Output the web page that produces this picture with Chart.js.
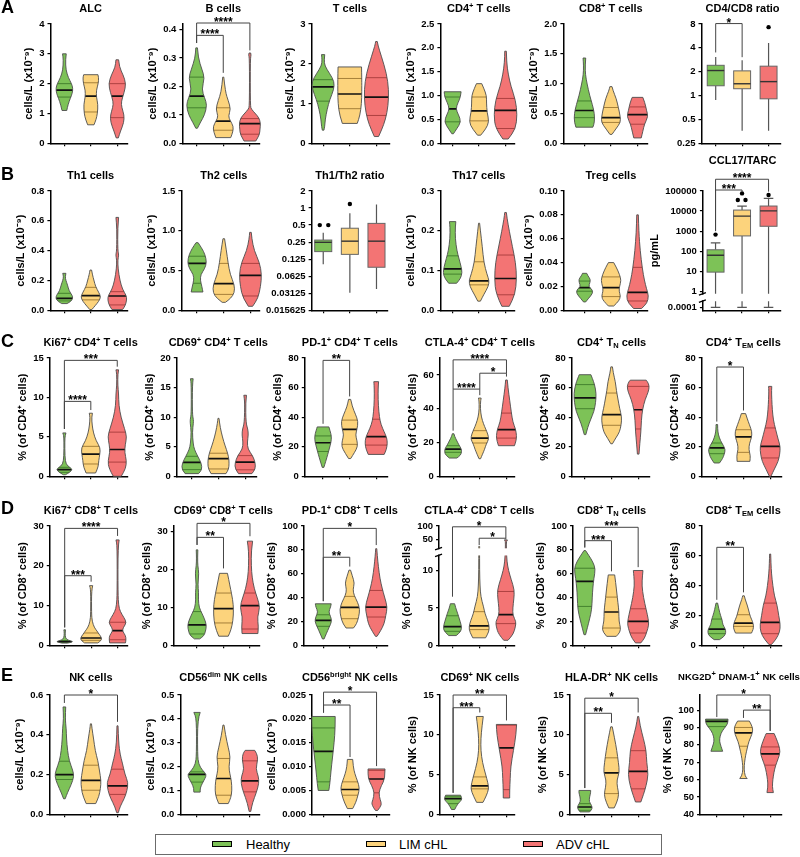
<!DOCTYPE html>
<html>
<head>
<meta charset="utf-8">
<title>Immune cell subsets in cHL</title>
<script src="https://cdn.jsdelivr.net/npm/chart.js@4.4.1/dist/chart.umd.min.js"></script>
<style>
  html, body { margin: 0; padding: 0; background: #fff; }
  body { position: relative; width: 800px; height: 857px; overflow: hidden; font-family: 'Liberation Sans', Arial, sans-serif; color: #000; }
  .panel { position: absolute; }
  .panel canvas { display: block; }
  .ptitle { position: absolute; transform: translateX(-50%); white-space: nowrap; font-weight: bold; font-size: 11px; line-height: 14px; z-index: 2; }
  .ptitle sup { font-size: 7.5px; vertical-align: 4px; line-height: 0; }
  .ptitle sub { font-size: 7.5px; vertical-align: -2px; line-height: 0; }
  .letter { position: absolute; font-weight: bold; font-size: 18px; line-height: 18px; z-index: 2; }
  #legend { position: absolute; left: 155px; top: 834px; width: 507px; height: 21px; border: 1px solid #6b6b6b; box-sizing: border-box; }
  #legend .sw { position: absolute; top: 6px; width: 18px; height: 4px; border: 1.5px solid #000; }
  #legend .lt { position: absolute; top: 0; font-size: 13px; line-height: 19px; }
</style>
</head>
<body>
<script>
// ---------- groups ----------
const GROUPS = ['Healthy', 'LIM cHL', 'ADV cHL'];
const FILLS = ['#7dc257', '#fcd37c', '#f37474'];
const QUART_LINES = ['#3e7a2a', '#9c7632', '#a63b3b'];
const FONT = "'Liberation Sans', Arial, sans-serif";

const Y_CELLS = 'cells/L (x10⁻⁹)';
const Y_CD4 = '% (of CD4⁺ cells)';
const Y_CD8 = '% (of CD8⁺ cells)';
const Y_NK = '% (of NK cells)';

// ---------- data: violin outlines are [value, half width] from min to max; quartiles are [Q1, median, Q3] ----------
// row A
const alcShape = [
  [[1.1,0.09],[1.3,0.14],[1.5,0.22],[1.68,0.3],[1.85,0.32],[2.0,0.27],[2.2,0.15],[2.45,0.06],[2.8,0.04],[3.0,0.07]],
  [[0.62,0.12],[0.8,0.2],[1.0,0.25],[1.3,0.27],[1.55,0.21],[1.78,0.21],[2.0,0.28],[2.2,0.3],[2.3,0.27]],
  [[0.18,0.04],[0.4,0.12],[0.7,0.25],[0.95,0.26],[1.2,0.17],[1.4,0.15],[1.7,0.26],[2.0,0.33],[2.3,0.22],[2.55,0.08],[2.8,0.05]]];
const alcQ = [[1.55,1.78,2.0],[1.05,1.58,2.03],[0.86,1.58,2.0]];

const bShape = [
  [[0.053,0.03],[0.075,0.15],[0.1,0.3],[0.135,0.39],[0.16,0.3],[0.19,0.19],[0.23,0.3],[0.26,0.2],[0.3,0.06],[0.336,0.03]],
  [[0.02,0.28],[0.04,0.36],[0.06,0.38],[0.08,0.26],[0.096,0.19],[0.12,0.28],[0.15,0.19],[0.18,0.08],[0.233,0.02]],
  [[0.008,0.22],[0.03,0.36],[0.05,0.38],[0.07,0.4],[0.09,0.34],[0.105,0.2],[0.12,0.06],[0.13,0.015],[0.3,0.015],[0.31,0.05],[0.318,0.03]]];
const bQ = [[0.125,0.166,0.233],[0.046,0.078,0.125],[0.032,0.069,0.087]];
const bBr = [[1,3,0.4235,0.353,0.327,'****'],[1,2,0.38,0.353,0.248,'****']];

const tShape = [
  [[0.33,0.03],[0.42,0.06],[0.6,0.08],[0.85,0.15],[1.1,0.25],[1.35,0.4],[1.55,0.42],[1.75,0.25],[1.95,0.06],[2.1,0.04],[2.23,0.06]],
  [[0.5,0.28],[0.7,0.38],[1.0,0.44],[1.3,0.45],[1.6,0.45],[1.92,0.44]],
  [[0.17,0.08],[0.35,0.2],[0.6,0.34],[0.95,0.44],[1.35,0.46],[1.75,0.38],[2.2,0.18],[2.45,0.06],[2.56,0.03]]];
const tQ = [[1.06,1.42,1.6],[0.87,1.24,1.63],[0.7,1.16,1.65]];

const cd4Shape = [
  [[0.2,0.03],[0.3,0.15],[0.45,0.32],[0.6,0.22],[0.72,0.12],[0.85,0.2],[0.97,0.3],[1.08,0.32]],
  [[0.17,0.06],[0.3,0.25],[0.45,0.38],[0.65,0.3],[0.85,0.28],[1.0,0.28],[1.15,0.18],[1.25,0.1]],
  [[0.09,0.1],[0.3,0.38],[0.6,0.44],[0.9,0.38],[1.2,0.2],[1.45,0.1],[1.7,0.04],[1.93,0.03]]];
const cd4Q = [[0.45,0.72,0.97],[0.47,0.68,0.97],[0.31,0.69,0.94]];

const cd8Shape = [
  [[0.27,0.32],[0.35,0.38],[0.5,0.38],[0.65,0.3],[0.8,0.2],[1.0,0.1],[1.15,0.04],[1.3,0.03],[1.43,0.05]],
  [[0.15,0.04],[0.25,0.2],[0.35,0.36],[0.45,0.35],[0.6,0.28],[0.75,0.2],[0.88,0.08],[0.95,0.04]],
  [[0.09,0.14],[0.2,0.2],[0.32,0.26],[0.45,0.4],[0.55,0.34],[0.68,0.28],[0.77,0.2]]];
const cd8Q = [[0.43,0.55,0.71],[0.35,0.43,0.6],[0.32,0.48,0.61]];

// boxes are [low whisker, Q1, median, Q3, high whisker]; outliers are [value, x offset]
const ratioBox = [[0.88,1.33,2.07,2.41,3.07],[0.36,1.22,1.41,2.05,2.79],[0.36,0.91,1.5,2.35,4.6]];
const ratioOut = [[],[],[[7.3,0]]];
const ratioBr = [[1,2,8.1,3.5,3.05,'*']];

// row B
const th1Shape = [
  [[0.045,0.1],[0.06,0.25],[0.08,0.32],[0.1,0.3],[0.13,0.18],[0.17,0.12],[0.2,0.06],[0.225,0.03],[0.248,0.06]],
  [[0.005,0.04],[0.03,0.16],[0.06,0.3],[0.09,0.38],[0.12,0.3],[0.16,0.18],[0.2,0.12],[0.24,0.06],[0.27,0.03]],
  [[0.005,0.2],[0.03,0.3],[0.07,0.36],[0.1,0.34],[0.14,0.2],[0.2,0.1],[0.28,0.03],[0.34,0.02],[0.37,0.06],[0.4,0.02],[0.55,0.015],[0.623,0.05]]];
const th1Q = [[0.063,0.08,0.114],[0.07,0.098,0.154],[0.036,0.096,0.125]];

const th2Shape = [
  [[0.23,0.22],[0.3,0.18],[0.38,0.12],[0.45,0.14],[0.52,0.28],[0.6,0.36],[0.7,0.3],[0.78,0.18],[0.85,0.04]],
  [[0.1,0.06],[0.15,0.26],[0.22,0.4],[0.32,0.4],[0.45,0.24],[0.6,0.16],[0.75,0.1],[0.9,0.03]],
  [[0.05,0.08],[0.15,0.28],[0.3,0.38],[0.45,0.42],[0.6,0.34],[0.75,0.14],[0.9,0.05],[0.98,0.03]]];
const th2Q = [[0.34,0.59,0.68],[0.2,0.335,0.59],[0.18,0.44,0.59]];

const thRatioBox = [[0.102,0.17,0.248,0.272,0.366],[0.032,0.152,0.26,0.44,0.81],[0.037,0.09,0.26,0.536,1.16]];
const thRatioOut = [[[0.5,-0.13],[0.5,0.19]],[[1.18,0]],[]];

const th17Shape = [
  [[0.068,0.15],[0.08,0.3],[0.095,0.36],[0.11,0.32],[0.13,0.24],[0.15,0.16],[0.18,0.1],[0.21,0.1],[0.223,0.12]],
  [[0.023,0.05],[0.04,0.18],[0.06,0.35],[0.075,0.38],[0.09,0.3],[0.12,0.18],[0.16,0.12],[0.2,0.05],[0.219,0.02]],
  [[0.01,0.14],[0.04,0.36],[0.08,0.42],[0.12,0.38],[0.16,0.26],[0.2,0.14],[0.23,0.06],[0.246,0.03]]];
const th17Q = [[0.091,0.104,0.137],[0.064,0.074,0.122],[0.039,0.08,0.139]];

const tregShape = [
  [[0.007,0.04],[0.01,0.15],[0.014,0.3],[0.017,0.3],[0.02,0.15],[0.023,0.2],[0.026,0.22],[0.029,0.12],[0.031,0.08]],
  [[0.0036,0.1],[0.008,0.3],[0.012,0.36],[0.016,0.3],[0.02,0.32],[0.025,0.38],[0.03,0.32],[0.036,0.2],[0.04,0.1]],
  [[0.0015,0.15],[0.006,0.36],[0.012,0.42],[0.018,0.34],[0.025,0.26],[0.035,0.18],[0.05,0.1],[0.065,0.05],[0.08,0.03]]];
const tregQ = [[0.016,0.019,0.0245],[0.0115,0.019,0.028],[0.0078,0.015,0.036]];

const ccl17Box = [[0.0001,9,62,117,257],[0.0001,575,5600,11200,17800],[0.0001,1740,10200,17800,43000]];
const ccl17Out = [[[670,0]],[[35500,-0.16],[35500,0.13],[76000,0]],[[63000,0]]];
const ccl17Br = [[1,3,385000,1000,93000,'****'],[1,2,112000,1000,92000,'***']];

// row C
const ki4Shape = [
  [[0.2,0.04],[0.5,0.2],[0.85,0.3],[1.1,0.22],[1.5,0.06],[2.5,0.02],[4.5,0.015],[5.2,0.03],[5.5,0.06]],
  [[0.42,0.18],[1.2,0.28],[2.0,0.3],[2.8,0.34],[3.6,0.36],[4.5,0.2],[5.5,0.1],[6.5,0.05],[7.5,0.03],[8.0,0.06]],
  [[0.0,0.15],[1.0,0.32],[2.0,0.35],[3.0,0.28],[4.0,0.3],[5.0,0.36],[6.0,0.28],[7.5,0.14],[9.0,0.06],[10.5,0.05],[11.5,0.02],[13.0,0.02],[13.5,0.05]]];
const ki4Q = [[0.5,0.85,1.14],[1.56,2.8,3.8],[1.8,3.4,5.6]];
const ki4Br = [[1,3,14.7,6,13.9,'***'],[1,2,9.5,6,8.4,'****']];

const cd69c4Shape = [
  [[0.45,0.25],[1.1,0.38],[2.2,0.36],[3.4,0.22],[4.5,0.1],[5.5,0.05],[7.5,0.02],[9.0,0.06],[9.6,0.06],[10.5,0.02],[15.5,0.02],[16.5,0.05]],
  [[0.45,0.28],[1.2,0.38],[2.2,0.4],[3.3,0.38],[4.5,0.3],[5.8,0.2],[7.5,0.1],[9.0,0.04],[9.8,0.02]],
  [[0.45,0.25],[1.2,0.38],[2.3,0.38],[3.5,0.28],[4.6,0.1],[5.8,0.08],[7.0,0.12],[8.0,0.1],[9.0,0.03],[12.5,0.015],[13.7,0.05]]];
const cd69c4Q = [[1.13,2.37,3.38],[1.24,3.0,3.9],[1.1,2.4,3.5]];

const pd1c4Shape = [
  [[6,0.03],[10,0.1],[15,0.18],[19,0.24],[23,0.3],[27,0.32],[31,0.26],[33.4,0.22]],
  [[12,0.04],[16,0.18],[20,0.3],[24,0.28],[28,0.22],[32,0.28],[37,0.32],[42,0.22],[47,0.1],[52,0.04]],
  [[14.8,0.3],[18,0.38],[22,0.42],[26,0.4],[30,0.3],[35,0.18],[40,0.12],[48,0.08],[56,0.07],[62,0.08],[64,0.09]]];
const pd1c4Q = [[16.8,22.7,27.3],[21.6,31.8,38],[21.1,26.8,38.6]];
const pd1c4Br = [[1,2,78.4,35.5,54,'**']];

const ctla4Shape = [
  [[10.8,0.14],[12.5,0.28],[14.5,0.32],[16.5,0.3],[18.5,0.22],[21,0.14],[23.5,0.06],[25.2,0.03]],
  [[10.4,0.03],[13,0.1],[16,0.18],[19,0.24],[22,0.34],[25,0.3],[28,0.22],[31,0.14],[35,0.06],[40,0.02],[45,0.03],[46.3,0.05]],
  [[18.1,0.3],[21,0.36],[24,0.38],[28,0.34],[32,0.24],[38,0.18],[45,0.12],[52,0.06],[57,0.03]]];
const ctla4Q = [[14.2,16.1,18.1],[19.7,22.6,27],[22.6,27.6,37.4]];
const ctla4Br = [[1,3,68.9,51.6,61,'****'],[2,3,61,51.6,59,'*'],[1,2,51.6,27,48,'****']];

const tn4Shape = [
  [[28.2,0.03],[33,0.1],[38,0.2],[44,0.34],[50,0.4],[56,0.42],[62,0.36],[66,0.28],[68.7,0.22]],
  [[22,0.03],[26,0.16],[30,0.3],[35,0.36],[40,0.38],[46,0.3],[52,0.24],[58,0.18],[64,0.14],[70,0.06],[74,0.03]],
  [[15,0.03],[22,0.06],[30,0.1],[38,0.12],[45,0.16],[52,0.26],[57,0.38],[61,0.42],[64,0.35],[65,0.3]]];
const tn4Q = [[45.7,53,62],[34.5,41.7,56.3],[32,45,60.8]];

const tem4Shape = [
  [[9,0.1],[12,0.22],[15,0.28],[18,0.32],[21,0.24],[24,0.14],[28,0.06],[32,0.03],[35,0.03]],
  [[10.1,0.24],[14,0.26],[18,0.2],[22,0.22],[26,0.3],[30,0.32],[35,0.22],[39,0.14],[42.4,0.08]],
  [[0,0.03],[5,0.16],[10,0.3],[15,0.36],[20,0.38],[25,0.3],[32,0.2],[38,0.12],[45,0.08],[52,0.06],[58,0.05],[60.8,0.06]]];
const tem4Q = [[15.3,19.2,22.5],[16.2,26.6,31.5],[12.4,20.3,32.7]];
const tem4Br = [[1,2,73.9,37,44.5,'*']];

// row D
const ki8Shape = [
  [[0.55,0.1],[0.8,0.28],[1.0,0.3],[1.3,0.12],[1.8,0.03],[3.0,0.015],[3.9,0.03]],
  [[0.6,0.25],[1.2,0.38],[1.9,0.4],[2.8,0.3],[3.6,0.22],[4.5,0.12],[6,0.04],[8,0.015],[14,0.015],[15,0.06]],
  [[0.6,0.3],[1.5,0.32],[2.5,0.3],[3.6,0.18],[4.5,0.22],[5.7,0.34],[7,0.24],[8.5,0.1],[10,0.04],[13,0.015],[25,0.015],[26.5,0.06]]];
const ki8Q = [[0.75,0.92,1.17],[1.25,1.84,3.1],[1.4,3.7,5.8]];
const ki8Br = [[1,3,29.4,4.5,27.5,'****'],[1,2,17.5,4.5,16,'***']];

const cd69c8Shape = [
  [[1.7,0.1],[2.5,0.26],[3.7,0.32],[5.3,0.36],[7,0.28],[8.5,0.18],[10,0.08],[12,0.05],[14,0.06],[16,0.03],[19,0.07],[21,0.03],[23,0.02],[25.2,0.03]],
  [[2.4,0.18],[4,0.28],[6.5,0.36],[9.5,0.38],[12,0.35],[15.5,0.25],[19,0.15]],
  [[3.1,0.3],[5,0.32],[7.5,0.28],[10,0.38],[12.5,0.28],[15,0.16],[18,0.08],[21,0.05],[25,0.05],[27.5,0.1]]];
const cd69c8Q = [[3.0,5.4,8.9],[5.9,9.7,13.8],[4.3,10.5,13.8]];
const cd69c8Br = [[1,3,32.2,26.5,28.8,'*'],[1,2,28.5,26.5,20.3,'**']];

const pd1c8Shape = [
  [[5.3,0.03],[10,0.12],[15,0.22],[20,0.32],[24,0.28],[28,0.2],[32,0.28],[34.8,0.3]],
  [[14.5,0.14],[18,0.26],[24,0.34],[30,0.38],[36,0.3],[42,0.16],[47,0.12],[52,0.18],[58,0.1],[63,0.03]],
  [[7.5,0.03],[12,0.16],[18,0.3],[25,0.36],[32,0.42],[40,0.32],[48,0.22],[56,0.14],[66,0.08],[75,0.04],[81,0.02]]];
const pd1c8Q = [[15.9,20.9,25.6],[22.3,31.8,41],[23.7,32,46]];
const pd1c8Br = [[1,3,98,37,84,'*'],[1,2,73.8,37,66,'**']];

const ctla8Shape = [
  [[1.3,0.14],[1.8,0.3],[2.3,0.34],[2.8,0.32],[3.5,0.26],[4.2,0.2],[5,0.12],[5.56,0.08]],
  [[1.0,0.24],[1.8,0.36],[2.5,0.38],[3.3,0.32],[4.2,0.22],[5.2,0.16],[6.5,0.06],[8,0.03],[10,0.015],[22,0.015],[22.5,0.02]],
  [[0.67,0.08],[1.5,0.28],[2.5,0.36],[3.2,0.38],[4.0,0.26],[5.0,0.26],[6.2,0.3],[7.4,0.32],[8.8,0.2],[10,0.1],[11.2,0.04],[12.5,0.02],[45,0.015],[47.5,0.06]]];
const ctla8Q = [[1.87,2.5,3.95],[2.1,2.6,4.5],[2.9,4.1,7.2]];
const ctla8Br = [[1,3,97,6.5,54,'*'],[2,3,54,28,49,'*']];

const tn8Shape = [
  [[8.9,0.03],[15,0.1],[22,0.18],[30,0.26],[40,0.28],[48,0.3],[56,0.34],[64,0.4],[70,0.3],[75,0.16],[79.4,0.03]],
  [[7.5,0.18],[11,0.32],[15,0.34],[20,0.28],[28,0.28],[36,0.24],[44,0.2],[52,0.16],[59,0.12]],
  [[2,0.1],[6,0.24],[11,0.32],[17,0.4],[22,0.38],[30,0.3],[40,0.2],[50,0.14],[58,0.16],[62.7,0.18]]];
const tn8Q = [[32.6,53.5,64.6],[14.5,27.9,40.4],[10.3,20,30.6]];
const tn8Br = [[1,3,98.9,82,65.5,'***'],[1,2,87.7,82,62,'***']];

const tem8Shape = [
  [[3.8,0.1],[6,0.28],[8.5,0.34],[11,0.32],[14,0.22],[17,0.2],[20,0.14],[24,0.08],[28.3,0.03]],
  [[8.2,0.3],[10.5,0.36],[13,0.38],[16,0.34],[19,0.26],[23,0.2],[27,0.14],[31,0.06],[33.2,0.03]],
  [[0.4,0.04],[4,0.22],[9,0.36],[14,0.38],[20,0.32],[27,0.26],[33,0.16],[40,0.1],[48,0.05],[55,0.03],[61.2,0.02]]];
const tem8Q = [[7.8,10.9,17.6],[12.7,14.9,20.5],[7.8,15.4,28.3]];
const tem8Br = [[1,2,65.7,30.5,35.5,'**']];

// row E
const nkShape = [
  [[0.078,0.03],[0.11,0.12],[0.15,0.26],[0.19,0.36],[0.22,0.32],[0.27,0.18],[0.32,0.12],[0.38,0.08],[0.43,0.07],[0.48,0.03],[0.54,0.05]],
  [[0.054,0.18],[0.09,0.3],[0.13,0.36],[0.17,0.38],[0.22,0.32],[0.27,0.26],[0.32,0.16],[0.38,0.1],[0.43,0.04],[0.455,0.02]],
  [[0.008,0.03],[0.04,0.1],[0.08,0.26],[0.12,0.36],[0.16,0.4],[0.2,0.28],[0.26,0.18],[0.3,0.1],[0.36,0.04],[0.445,0.02]]];
const nkQ = [[0.175,0.2,0.267],[0.121,0.171,0.247],[0.1,0.143,0.227]];
const nkBr = [[1,3,0.6,0.56,0.465,'*']];

const dimShape = [
  [[0.093,0.12],[0.11,0.12],[0.13,0.2],[0.15,0.3],[0.167,0.36],[0.185,0.2],[0.21,0.06],[0.25,0.02],[0.4,0.02],[0.427,0.12]],
  [[0.045,0.18],[0.07,0.28],[0.1,0.32],[0.14,0.3],[0.17,0.24],[0.2,0.2],[0.24,0.26],[0.28,0.18],[0.33,0.08],[0.374,0.02]],
  [[0.012,0.03],[0.05,0.1],[0.09,0.24],[0.13,0.34],[0.16,0.32],[0.19,0.22],[0.23,0.3],[0.255,0.26],[0.268,0.18]]];
const dimQ = [[0.135,0.167,0.178],[0.08,0.15,0.234],[0.094,0.14,0.224]];

const brightShape = [
  [[0.005,0.2],[0.0065,0.24],[0.009,0.28],[0.012,0.34],[0.015,0.4],[0.018,0.44],[0.0205,0.44]],
  [[0.0012,0.1],[0.0025,0.22],[0.004,0.3],[0.0055,0.36],[0.007,0.28],[0.0085,0.18],[0.01,0.12],[0.0115,0.1]],
  [[0.0008,0.04],[0.002,0.2],[0.003,0.14],[0.0045,0.08],[0.006,0.18],[0.0075,0.32],[0.0095,0.32]]];
const brightQ = [[0.0068,0.0132,0.0181],[0.004,0.0052,0.0068],[0.0045,0.0074,0.0092]];
const brightBr = [[1,3,0.0256,0.0213,0.0101,'*'],[1,2,0.0229,0.0213,0.012,'**']];

const cd69nkShape = [
  [[0.6,0.06],[1.0,0.12],[1.4,0.2],[1.8,0.32],[2.1,0.32],[2.4,0.28]],
  [[1.5,0.12],[2.3,0.24],[3.2,0.34],[4.0,0.3],[5.0,0.22],[6.5,0.1],[8,0.04],[9.5,0.04],[11,0.08],[12.3,0.13]],
  [[2.05,0.12],[3.0,0.12],[4.5,0.14],[6,0.16],[8,0.26],[10,0.36],[11.3,0.38]]];
const cd69nkQ = [[1.34,1.97,2.27],[3.2,3.57,4.7],[3.1,8.36,11.2]];
const cd69nkBr = [[1,3,15,2.7,11.8,'**'],[1,2,13.4,2.7,12.8,'***']];

const hlaShape = [
  [[0.3,0.18],[0.7,0.28],[1.1,0.26],[1.6,0.16],[2.2,0.18],[2.7,0.22],[3.0,0.22]],
  [[0.8,0.1],[1.5,0.2],[2.5,0.28],[3.4,0.22],[4.3,0.2],[5.3,0.3],[6.5,0.26],[8,0.2],[9.5,0.12],[11,0.03]],
  [[1.55,0.1],[2.5,0.2],[3.6,0.3],[5.0,0.38],[6.5,0.32],[8,0.3],[9.5,0.2],[11,0.08],[12.3,0.02]]];
const hlaQ = [[0.5,0.92,1.34],[2.6,5.2,7.1],[3.2,5.4,8.0]];
const hlaBr = [[1,3,14.6,3.3,12.8,'*'],[1,2,12.7,3.3,11.5,'**']];

const nkgShape = [
  [[76.3,0.22],[79,0.16],[82,0.1],[85,0.12],[88,0.2],[91,0.36],[93,0.42],[94.8,0.42]],
  [[60.6,0.14],[62,0.06],[66,0.02],[70,0.04],[74,0.08],[78,0.14],[82,0.2],[86,0.32],[90,0.36],[93.7,0.22]],
  [[52.5,0.12],[56,0.08],[60,0.1],[64,0.14],[68,0.2],[72,0.3],[76,0.38],[80,0.32],[84,0.22],[86.5,0.15]]];
const nkgQ = [[90.5,93.5,94.5],[79.2,86.9,90],[68.3,74.8,78.8]];
const nkgBr = [[1,3,108.7,96,88,'*'],[2,3,100,95.5,88,'**']];

// ---------- axis helpers ----------
const log2Ticks = (a, b) => { const t = []; for (let k = a; k <= b; k++) t.push(k); return t; };
const ctlaBreak = v => v <= 12 ? v : 12.98 + (v - 16.25) * 0.03556;
const ccl17Axis = v => v >= 1 ? Math.log10(v) : -0.8 + (Math.log10(v) + 4) * 0.2;

// ---------- layout: rows are [plot top, plot bottom, title centre]; pos is [y axis x, first group x, x axis end] ----------
const ROWS = [[24.3, 144, 7.5], [191, 310.3, 175], [358.3, 476.7, 342.3], [526.3, 646, 510.3], [695.3, 814.3, 677]];
const SP = 26.6;

const panels = [
  {r:0, pos:[50,64,128], title:'ALC', yt:Y_CELLS, shape:alcShape, q:alcQ, y:[0,4], ticks:[0,1,2,3,4]},
  {r:0, pos:[182.5,196.7,260], title:'B cells', yt:Y_CELLS, shape:bShape, q:bQ, br:bBr, y:[0,0.42], ticks:[0,0.1,0.2,0.3,0.4], dec:1},
  {r:0, pos:[311.7,323.3,390], title:'T cells', yt:Y_CELLS, shape:tShape, q:tQ, y:[0,3], ticks:[0,1,2,3]},
  {r:0, pos:[440,452.3,515], title:'CD4<sup>+</sup> T cells', yt:Y_CELLS, shape:cd4Shape, q:cd4Q, y:[0,2.5], ticks:[0,0.5,1,1.5,2,2.5], dec:1},
  {r:0, pos:[563.3,584.3,648], title:'CD8<sup>+</sup> T cells', yt:Y_CELLS, shape:cd8Shape, q:cd8Q, y:[0,2], ticks:[0,0.5,1,1.5,2], dec:1},
  {r:0, pos:[701.7,716,781.7], title:'CD4/CD8 ratio', box:ratioBox, out:ratioOut, br:ratioBr, tf:Math.log2, y:[-2,3], ticks:log2Ticks(-2,3),
    labels:['0.25','0.5','1','2','4','8']},

  {r:1, pos:[50,64,128], title:'Th1 cells', yt:Y_CELLS, shape:th1Shape, q:th1Q, y:[0,0.8], ticks:[0,0.2,0.4,0.6,0.8], dec:1},
  {r:1, pos:[181.7,197.3,260], title:'Th2 cells', yt:Y_CELLS, shape:th2Shape, q:th2Q, y:[0,1.5], ticks:[0,0.5,1,1.5], dec:1},
  {r:1, pos:[311.7,323.3,388], title:'Th1/Th2 ratio', box:thRatioBox, out:thRatioOut, tf:Math.log2, y:[-6,1], ticks:log2Ticks(-6,1),
    labels:['0.015625','0.03125','0.0625','0.125','0.25','0.5','1','2']},
  {r:1, pos:[440,452.3,515], title:'Th17 cells', yt:Y_CELLS, shape:th17Shape, q:th17Q, y:[0,0.3], ticks:[0,0.1,0.2,0.3], dec:1},
  {r:1, pos:[563.3,584.3,648], title:'Treg cells', yt:Y_CELLS, shape:tregShape, q:tregQ, y:[0,0.1], ticks:[0,0.02,0.04,0.06,0.08,0.1], dec:2},
  {r:1, pos:[703.3,716,781.7], title:'CCL17/TARC', titleY:160, yt:'pg/mL', box:ccl17Box, out:ccl17Out, br:ccl17Br, caps:true,
    tf:ccl17Axis, gap:[-0.5,-0.12], y:[-0.95,5], ticks:[-0.8,0,1,2,3,4,5], labels:['0.0001','1','10','100','1000','10000','100000']},

  {r:2, pos:[49.3,64,128], title:'Ki67<sup>+</sup> CD4<sup>+</sup> T cells', yt:Y_CD4, shape:ki4Shape, q:ki4Q, br:ki4Br, y:[0,15], ticks:[0,5,10,15]},
  {r:2, pos:[176.7,191.7,256.7], title:'CD69<sup>+</sup> CD4<sup>+</sup> T cells', yt:Y_CD4, shape:cd69c4Shape, q:cd69c4Q, y:[0,20], ticks:[0,5,10,15,20]},
  {r:2, pos:[305,323.3,388.3], title:'PD-1<sup>+</sup> CD4<sup>+</sup> T cells', yt:Y_CD4, shape:pd1c4Shape, q:pd1c4Q, br:pd1c4Br, y:[0,80], ticks:[0,20,40,60,80]},
  {r:2, pos:[440,453.3,515], title:'CTLA-4<sup>+</sup> CD4<sup>+</sup> T cells', yt:Y_CD4, shape:ctla4Shape, q:ctla4Q, br:ctla4Br, y:[0,70], ticks:[0,20,40,60]},
  {r:2, pos:[571.7,585,650], title:'CD4<sup>+</sup> T<sub>N</sub> cells', yt:Y_CD4, shape:tn4Shape, q:tn4Q, y:[0,80], ticks:[0,20,40,60,80]},
  {r:2, pos:[701.7,716.7,781.7], title:'CD4<sup>+</sup> T<sub>EM</sub> cells', yt:Y_CD4, shape:tem4Shape, q:tem4Q, br:tem4Br, y:[0,80], ticks:[0,20,40,60,80]},

  {r:3, pos:[49.3,64.3,128], title:'Ki67<sup>+</sup> CD8<sup>+</sup> T cells', yt:Y_CD8, shape:ki8Shape, q:ki8Q, br:ki8Br, y:[0,30], ticks:[0,10,20,30]},
  {r:3, pos:[173.3,196.7,260], title:'CD69<sup>+</sup> CD8<sup>+</sup> T cells', yt:Y_CD8, shape:cd69c8Shape, q:cd69c8Q, br:cd69c8Br, y:[0,31.5], ticks:[0,10,20,30]},
  {r:3, pos:[304,323.3,388.3], title:'PD-1<sup>+</sup> CD8<sup>+</sup> T cells', yt:Y_CD8, shape:pd1c8Shape, q:pd1c8Q, br:pd1c8Br, y:[0,100], ticks:[0,20,40,60,80,100]},
  {r:3, pos:[439.3,452.7,515], title:'CTLA-4<sup>+</sup> CD8<sup>+</sup> T cells', yt:Y_CD8, shape:ctla8Shape, q:ctla8Q, br:ctla8Br,
    tf:ctlaBreak, gap:[12,12.98], y:[0,ctlaBreak(100)], ticks:[0,5,10,ctlaBreak(50),ctlaBreak(100)], labels:['0','5','10','50','100']},
  {r:3, pos:[573.3,585,650], title:'CD8<sup>+</sup> T<sub>N</sub> cells', yt:Y_CD8, shape:tn8Shape, q:tn8Q, br:tn8Br, y:[0,100], ticks:[0,20,40,60,80,100]},
  {r:3, pos:[701.7,716.7,781.7], title:'CD8<sup>+</sup> T<sub>EM</sub> cells', yt:Y_CD8, shape:tem8Shape, q:tem8Q, br:tem8Br, y:[0,80], ticks:[0,20,40,60,80]},

  {r:4, pos:[49.3,64.3,128], title:'NK cells', yt:Y_CELLS, shape:nkShape, q:nkQ, br:nkBr, y:[0,0.6], ticks:[0,0.2,0.4,0.6], dec:1},
  {r:4, pos:[180,196.7,260], title:'CD56<sup>dim</sup> NK cells', yt:Y_CELLS, shape:dimShape, q:dimQ, y:[0,0.5], ticks:[0,0.1,0.2,0.3,0.4,0.5], dec:1},
  {r:4, pos:[311.7,323.3,390], title:'CD56<sup>bright</sup> NK cells', yt:Y_CELLS, shape:brightShape, q:brightQ, br:brightBr, y:[0,0.025],
    ticks:[0,0.005,0.01,0.015,0.02,0.025], dec:3},
  {r:4, pos:[440,453.3,515], title:'CD69<sup>+</sup> NK cells', yt:Y_NK, shape:cd69nkShape, q:cd69nkQ, br:cd69nkBr, y:[0,15], ticks:[0,5,10,15]},
  {r:4, pos:[570,585,650], title:'HLA-DR<sup>+</sup> NK cells', yt:Y_NK, shape:hlaShape, q:hlaQ, br:hlaBr, y:[0,15], ticks:[0,5,10,15]},
  {r:4, pos:[700,716.7,781.7], title:'NKG2D<sup>+</sup> DNAM-1<sup>+</sup> NK cells', small:true, titleX:739, yt:Y_NK, shape:nkgShape, q:nkgQ, br:nkgBr,
    y:[40,108.7], ticks:[40,50,60,70,80,90,100]}
];

// ---------- drawing helpers ----------
function smoothTo(path, pts) {
  for (let k = 1; k < pts.length - 1; k++) {
    path.quadraticCurveTo(pts[k][0], pts[k][1], (pts[k][0] + pts[k + 1][0]) / 2, (pts[k][1] + pts[k + 1][1]) / 2);
  }
  const last = pts[pts.length - 1];
  path.lineTo(last[0], last[1]);
}

function drawViolin(ctx, X, Y, g, knots, q, i) {
  const left = knots.map(([v, w]) => [X(g - w), Y(v)]);
  const right = knots.map(([v, w]) => [X(g + w), Y(v)]).reverse();
  const path = new Path2D();
  path.moveTo(left[0][0], left[0][1]);
  smoothTo(path, left);
  path.lineTo(right[0][0], right[0][1]);
  smoothTo(path, right);
  path.closePath();
  ctx.fillStyle = FILLS[i];
  ctx.fill(path);
  // quartile and median lines, cut to the violin outline
  ctx.save();
  ctx.clip(path);
  const x0 = X(g - 0.6), x1 = X(g + 0.6);
  [[q[0], QUART_LINES[i], 0.9], [q[2], QUART_LINES[i], 0.9], [q[1], '#111', 1.7]].forEach(([v, c, lw]) => {
    ctx.beginPath();
    ctx.moveTo(x0, Y(v));
    ctx.lineTo(x1, Y(v));
    ctx.strokeStyle = c;
    ctx.lineWidth = lw;
    ctx.stroke();
  });
  ctx.restore();
  ctx.strokeStyle = '#4d4d4d';
  ctx.lineWidth = 0.9;
  ctx.stroke(path);
}

function drawBox(ctx, X, Y, g, b, i, caps) {
  const [lo, q1, med, q3, hi] = b;
  const xc = X(g), xl = X(g - 0.32), xr = X(g + 0.32);
  ctx.strokeStyle = '#555';
  ctx.lineWidth = 1.2;
  ctx.beginPath();
  ctx.moveTo(xc, Y(hi)); ctx.lineTo(xc, Y(q3));
  ctx.moveTo(xc, Y(q1)); ctx.lineTo(xc, Y(lo));
  if (caps) {
    const cl = X(g - 0.18), cr = X(g + 0.18);
    ctx.moveTo(cl, Y(hi)); ctx.lineTo(cr, Y(hi));
    ctx.moveTo(cl, Y(lo)); ctx.lineTo(cr, Y(lo));
  }
  ctx.stroke();
  ctx.fillStyle = FILLS[i];
  ctx.fillRect(xl, Y(q3), xr - xl, Y(q1) - Y(q3));
  ctx.strokeStyle = '#666';
  ctx.lineWidth = 1;
  ctx.strokeRect(xl, Y(q3), xr - xl, Y(q1) - Y(q3));
  ctx.beginPath();
  ctx.moveTo(xl, Y(med)); ctx.lineTo(xr, Y(med));
  ctx.strokeStyle = '#333';
  ctx.lineWidth = 1.4;
  ctx.stroke();
}

function drawBracket(ctx, X, Y, [a, b, top, botA, botB, label]) {
  const xa = X(a), xb = X(b), yt = Y(top);
  ctx.beginPath();
  ctx.moveTo(xa, Y(botA)); ctx.lineTo(xa, yt); ctx.lineTo(xb, yt); ctx.lineTo(xb, Y(botB));
  ctx.strokeStyle = '#444';
  ctx.lineWidth = 1;
  ctx.stroke();
  ctx.fillStyle = '#000';
  ctx.font = 'bold 12px ' + FONT;
  ctx.textAlign = 'center';
  ctx.textBaseline = 'alphabetic';
  ctx.fillText(label, (xa + xb) / 2, yt + 3);
}

function drawAxisBreak(ctx, chart, ys, gap) {
  const x = chart.chartArea.left;
  const a = ys.getPixelForValue(gap[1]), b = ys.getPixelForValue(gap[0]);
  ctx.save();
  ctx.fillStyle = '#fff';
  ctx.fillRect(x - 2, a + 1, 4, b - a - 2);
  ctx.strokeStyle = '#000';
  ctx.lineWidth = 1.3;
  ctx.beginPath();
  ctx.moveTo(x - 4, a + 1.5); ctx.lineTo(x + 3, a - 1);
  ctx.moveTo(x - 4, b + 1); ctx.lineTo(x + 3, b - 1.5);
  ctx.stroke();
  ctx.restore();
}

function panelPlugin(p) {
  const tf = p.tf || (v => v);
  return {
    id: 'panelMarks',
    afterDraw(chart) {
      const ctx = chart.ctx, xs = chart.scales.x, ys = chart.scales.y;
      const X = v => xs.getPixelForValue(v);
      const Y = v => ys.getPixelForValue(tf(v));
      ctx.save();
      if (p.gap) {
        const a = ys.getPixelForValue(p.gap[1]), b = ys.getPixelForValue(p.gap[0]);
        ctx.beginPath();
        ctx.rect(0, 0, chart.width, a);
        ctx.rect(0, b, chart.width, chart.height - b);
        ctx.clip();
      }
      if (p.shape) p.shape.forEach((knots, i) => drawViolin(ctx, X, Y, i + 1, knots, p.q[i], i));
      if (p.box) p.box.forEach((b, i) => drawBox(ctx, X, Y, i + 1, b, i, p.caps));
      if (p.out) p.out.forEach((list, i) => list.forEach(([v, dx]) => {
        ctx.beginPath();
        ctx.arc(X(i + 1 + dx), Y(v), 2.2, 0, Math.PI * 2);
        ctx.fillStyle = '#000';
        ctx.fill();
      }));
      ctx.restore();
      if (p.gap) drawAxisBreak(ctx, chart, ys, p.gap);
      (p.br || []).forEach(b => drawBracket(ctx, X, Y, b));
    }
  };
}

// ---------- build panels ----------
panels.forEach(p => {
  const [pt, pb, ty] = ROWS[p.r];
  const [ax, t1, xe] = p.pos;
  const xmin = 1 - (t1 - ax) / SP;
  const xmax = 3 + (xe - t1 - 2 * SP) / SP;
  const tf = p.tf || (v => v);
  const labels = p.labels || p.ticks.map(v => v.toFixed(p.dec || 0));
  const medians = p.q ? p.q.map(q => q[1]) : p.box.map(b => b[2]);

  const wrap = document.createElement('div');
  wrap.className = 'panel';
  document.body.appendChild(wrap);
  const cv = document.createElement('canvas');
  const W0 = 170, H0 = 175;
  cv.width = W0; cv.height = H0;
  wrap.appendChild(cv);

  const axisFont = {family: FONT, size: 9.5, weight: 'bold'};
  const chart = new Chart(cv, {
    type: 'scatter',
    data: {
      datasets: GROUPS.map((g, i) => ({
        label: g,
        data: [{x: i + 1, y: tf(medians[i])}],
        pointRadius: 0,
        backgroundColor: FILLS[i]
      }))
    },
    options: {
      responsive: false,
      maintainAspectRatio: false,
      animation: false,
      devicePixelRatio: 1,
      events: [],
      layout: {padding: {top: 26, right: 14, bottom: 1, left: 0}},
      plugins: {legend: {display: false}, tooltip: {enabled: false}},
      scales: {
        x: {
          type: 'linear', min: xmin, max: xmax, bounds: 'data',
          afterBuildTicks: s => { s.ticks = [1, 2, 3].map(v => ({value: v})); },
          afterFit: s => { s.height = 5; },
          ticks: {callback: () => '', padding: 0},
          grid: {drawOnChartArea: false, tickLength: 3, color: '#000', lineWidth: 1.2},
          border: {color: '#000', width: 1.5}
        },
        y: {
          type: 'linear', min: p.y[0], max: p.y[1], bounds: 'data',
          afterBuildTicks: s => { s.ticks = p.ticks.map(v => ({value: v})); },
          ticks: {autoSkip: false, font: axisFont, color: '#000', padding: 3, callback: (v, i) => labels[i]},
          grid: {drawOnChartArea: false, tickLength: 3, color: '#000', lineWidth: 1.2},
          border: {color: '#000', width: 1.5},
          title: {
            display: !!p.yt, text: p.yt || '', color: '#000',
            font: {family: FONT, size: 11, weight: 'bold'}, padding: {top: 0, bottom: 1}
          }
        }
      }
    },
    plugins: [panelPlugin(p)]
  });

  // fit the plot area to the measured axis positions
  const ca = chart.chartArea;
  chart.resize(Math.round(W0 + (xe - ax) - (ca.right - ca.left)), Math.round(H0 + (pb - pt) - (ca.bottom - ca.top)));
  wrap.style.left = (ax - chart.chartArea.left) + 'px';
  wrap.style.top = (pt - chart.chartArea.top) + 'px';

  const t = document.createElement('div');
  t.className = 'ptitle';
  t.innerHTML = p.title;
  if (p.small) t.style.fontSize = '9.5px';
  t.style.left = (p.titleX || (t1 + SP)) + 'px';
  t.style.top = ((p.titleY || ty) - 7) + 'px';
  document.body.appendChild(t);
});

// row letters
[['A', 1, -2], ['B', 1, 165], ['C', 1, 332], ['D', 1, 499], ['E', 1, 666]].forEach(([s, x, y]) => {
  const d = document.createElement('div');
  d.className = 'letter';
  d.textContent = s;
  d.style.left = x + 'px';
  d.style.top = y + 'px';
  document.body.appendChild(d);
});

// shared legend
const legend = document.createElement('div');
legend.id = 'legend';
const swatchX = [56, 210, 367], textX = [90, 243, 400];
GROUPS.forEach((g, i) => {
  const s = document.createElement('span');
  s.className = 'sw';
  s.style.left = swatchX[i] + 'px';
  s.style.background = FILLS[i];
  legend.appendChild(s);
  const l = document.createElement('span');
  l.className = 'lt';
  l.style.left = textX[i] + 'px';
  l.textContent = g;
  legend.appendChild(l);
});
document.body.appendChild(legend);
</script>
</body>
</html>
